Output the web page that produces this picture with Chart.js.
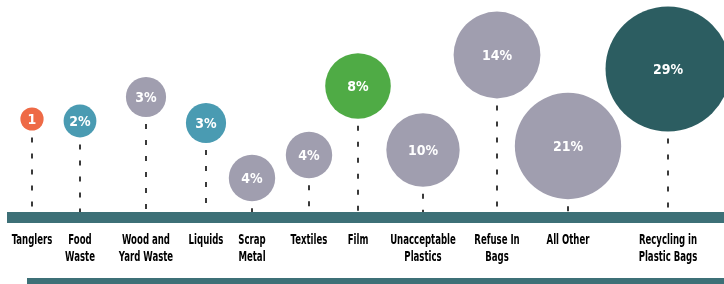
<!DOCTYPE html>
<html>
<head>
<meta charset="utf-8">
<script src="https://cdn.jsdelivr.net/npm/chart.js@4/dist/chart.umd.min.js"></script>
<style>
  html, body { margin: 0; padding: 0; background: #fff; }
  #wrap { width: 724px; height: 284px; position: relative; }
</style>
</head>
<body>
<div id="wrap"><canvas id="chart"></canvas></div>
<script>
const categories = [
  ["Tanglers"], ["Food", "Waste"], ["Wood and", "Yard Waste"], ["Liquids"],
  ["Scrap", "Metal"], ["Textiles"], ["Film"], ["Unacceptable", "Plastics"],
  ["Refuse In", "Bags"], ["All Other"], ["Recycling in", "Plastic Bags"]
];
const percents = [1, 2, 3, 3, 4, 4, 8, 10, 14, 21, 29];
const bubbleLabels = ["1", "2%", "3%", "3%", "4%", "4%", "8%", "10%", "14%", "21%", "29%"];
const xPositions = [32, 80, 146, 206, 252, 309, 358, 423, 497, 568, 668];
const heights = [95, 93, 117, 91, 36, 59, 128, 64, 159, 68, 145];

const ORANGE = "#ee6a46", BLUE = "#4a9bb2", GREY = "#a09eaf", GREEN = "#4fab45", DARK = "#2c5d61";
const colors = [ORANGE, BLUE, GREY, BLUE, GREY, GREY, GREEN, GREY, GREY, GREY, DARK];
const BAR = "#3d7077";
const LABEL_FONT = "bold 14px 'DejaVu Sans Condensed', 'Liberation Sans Narrow', sans-serif";
const BUBBLE_FONT = "bold 14px 'DejaVu Sans Condensed', 'Liberation Sans Narrow', sans-serif";

const decorations = {
  id: "decorations",
  beforeDatasetsDraw(chart) {
    const ctx = chart.ctx;
    const base = chart.scales.y.getPixelForValue(0);
    const meta = chart.getDatasetMeta(0);

    ctx.save();
    // dashed drop lines
    ctx.strokeStyle = "#3a3a3a";
    ctx.lineWidth = 2;
    ctx.setLineDash([5, 11]);
    meta.data.forEach((el) => {
      const r = el.options.radius;
      ctx.beginPath();
      ctx.moveTo(el.x, el.y + r + 7);
      ctx.lineTo(el.x, base + 2);
      ctx.stroke();
    });
    ctx.setLineDash([]);

    // axis bar + bottom bar
    ctx.fillStyle = BAR;
    ctx.fillRect(7, base - 2, chart.width - 7, 11);
    ctx.fillRect(27, base + 64, chart.width - 27, 8);

    // category labels, squeezed to look like the condensed original
    ctx.fillStyle = "#000";
    ctx.font = LABEL_FONT;
    ctx.textAlign = "center";
    ctx.textBaseline = "middle";
    meta.data.forEach((el, i) => {
      categories[i].forEach((line, j) => {
        ctx.save();
        ctx.translate(el.x, base + 26 + j * 17);
        ctx.scale(0.68, 1);
        ctx.fillText(line, 0, 0);
        ctx.restore();
      });
    });
    ctx.restore();
  },
  afterDatasetsDraw(chart) {
    const ctx = chart.ctx;
    const meta = chart.getDatasetMeta(0);
    ctx.save();
    ctx.fillStyle = "#fff";
    ctx.font = BUBBLE_FONT;
    ctx.textAlign = "center";
    ctx.textBaseline = "middle";
    meta.data.forEach((el, i) => {
      ctx.fillText(bubbleLabels[i], el.x, el.y + 1);
    });
    ctx.restore();
  }
};

new Chart(document.getElementById("chart"), {
  type: "bubble",
  data: {
    datasets: [{
      data: percents.map((p, i) => ({ x: xPositions[i], y: heights[i], r: 11.6 * Math.sqrt(p) })),
      backgroundColor: colors,
      borderWidth: 0,
      hoverRadius: 0
    }]
  },
  options: {
    responsive: true,
    maintainAspectRatio: false,
    animation: false,
    events: [],
    layout: { padding: 0, autoPadding: false },
    plugins: { legend: { display: false }, tooltip: { enabled: false } },
    scales: {
      x: { type: "linear", display: false, min: 0, max: 724 },
      y: { type: "linear", display: false, min: -70, max: 214 }
    }
  },
  plugins: [decorations]
});
</script>
</body>
</html>
